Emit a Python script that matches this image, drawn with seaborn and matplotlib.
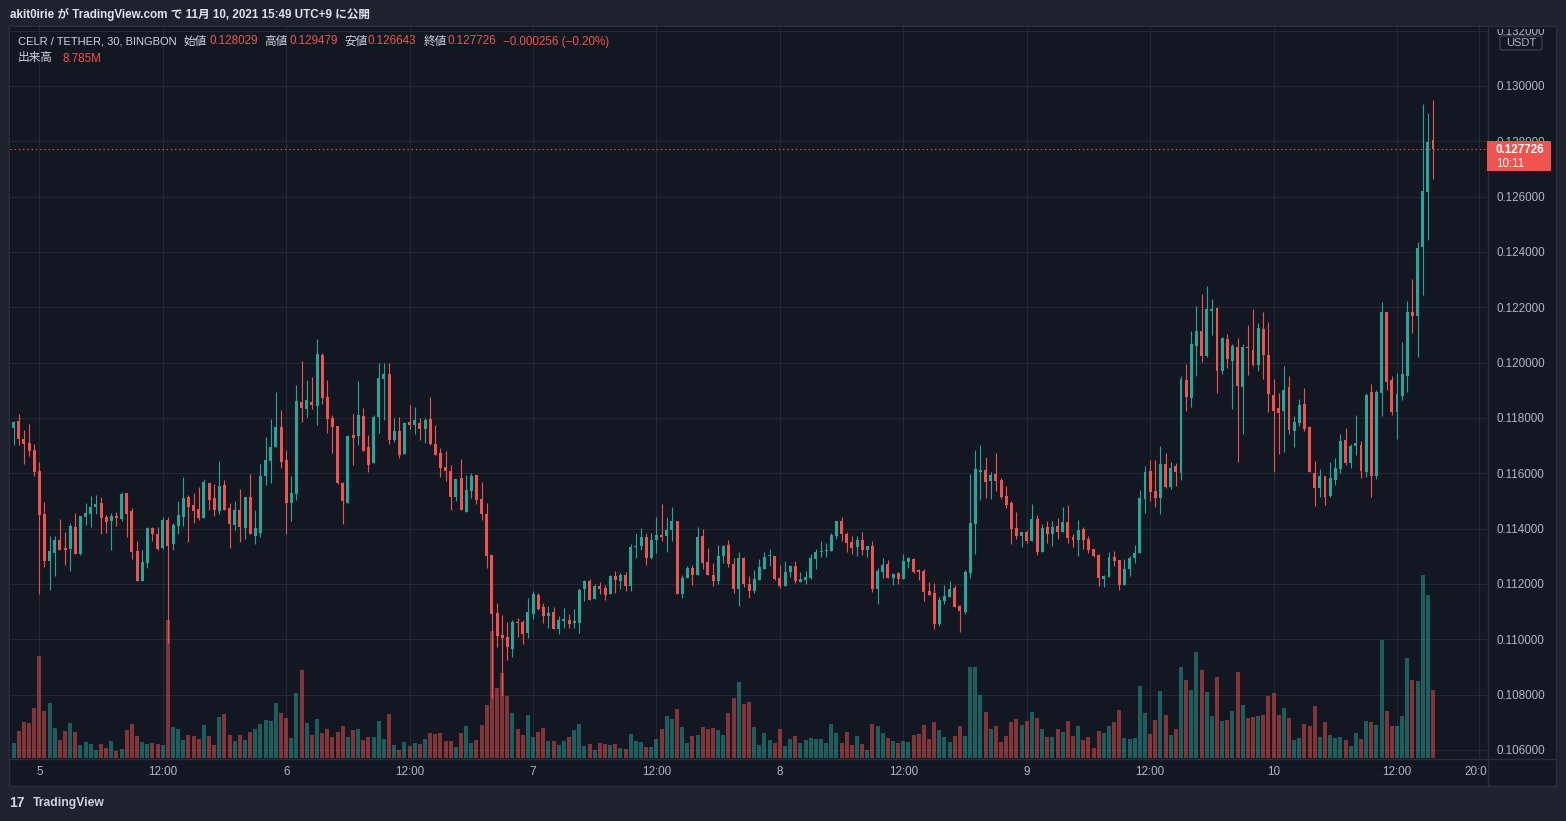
import matplotlib
matplotlib.use("Agg")
import matplotlib.pyplot as plt
import numpy as np
import pandas as pd
import seaborn as sns
from matplotlib.patches import Rectangle, FancyBboxPatch
from matplotlib.lines import Line2D
from matplotlib.transforms import Bbox, TransformedBbox, IdentityTransform

# ---------------- data (30-min candles, CELR/USDT, Nov 4 21:00 -> Nov 10 15:30) ----------------
opens = [
.11710,.11765,.11789,.11724,.11710,.11684,.11608,.11453,.11283,.11312,
.11359,.11330,.11326,.11406,.11307,.11442,.11453,.11478,.11493,.11442,
.11428,.11446,.11435,.11529,.11464,.11319,.11211,.11274,.11404,.11381,
.11330,.11432,.11343,.11410,.11442,.11514,.11486,.11471,.11439,.11565,
.11511,.11464,.11558,.11475,.11413,.11467,.11404,.11514,.11373,.11385,
.11590,.11645,.11695,.11768,.11648,.11493,.11525,.11858,.11833,.11858,
.11843,.12028,.11876,.11800,.11771,.11565,.11493,.11739,.11735,.11807,
.11695,.11637,.11804,.11941,.11959,.11721,.11753,.11670,.11786,.11775,
.11782,.11760,.11796,.11706,.11674,.11623,.11609,.11514,.11583,.11460,
.11536,.11594,.11507,.11453,.11305,.11095,.11016,.11008,.10965,.11063,
.11063,.11023,.11092,.11160,.11117,.11084,.11099,.11037,.11066,.11070,
.11059,.11059,.11182,.11211,.11146,.11193,.11185,.11164,.11229,.11211,
.11232,.11193,.11334,.11337,.11370,.11294,.11359,.11377,.11373,.11395,
.11428,.11164,.11222,.11258,.11232,.11373,.11279,.11232,.11211,.11301,
.11341,.11272,.11182,.11294,.11200,.11175,.11214,.11254,.11300,.11302,
.11222,.11193,.11243,.11265,.11207,.11214,.11222,.11290,.11316,.11320,
.11320,.11373,.11428,.11381,.11352,.11334,.11359,.11323,.11337,.11182,
.11243,.11272,.11222,.11240,.11218,.11279,.11290,.11247,.11247,.11175,
.11167,.11055,.11138,.11153,.11185,.11120,.11099,.11240,.11417,.11605,
.11612,.11572,.11598,.11576,.11518,.11493,.11402,.11374,.11388,.11355,
.11435,.11316,.11406,.11381,.11410,.11388,.11424,.11370,.11359,.11399,
.11363,.11327,.11305,.11218,.11225,.11298,.11287,.11196,.11254,.11294,
.11312,.11507,.11609,.11536,.11511,.11634,.11551,.11626,.11601,.11937,
.11872,.12060,.12114,.12024,.12187,.12198,.11970,.12086,.12006,.12057,
.11912,.12057,.12046,.11992,.12122,.12028,.11883,.11836,.11825,.11912,
.11753,.11782,.11851,.11768,.11601,.11547,.11590,.11518,.11576,.11616,
.11721,.11637,.11699,.11702,.11605,.11894,.11590,.11890,.12183,.11937,
.11822,.11880,.11952,.12183,.12169,.12418,.12617,.128029]

highs = [
.11771,.11789,.11814,.11757,.11778,.11706,.11641,.11496,.11373,.11373,
.11435,.11388,.11420,.11457,.11446,.11493,.11518,.11522,.11514,.11449,
.11457,.11460,.11532,.11529,.11475,.11357,.11323,.11406,.11406,.11406,
.11442,.11442,.11420,.11500,.11586,.11522,.11529,.11550,.11579,.11565,
.11561,.11644,.11576,.11493,.11500,.11543,.11514,.11597,.11467,.11634,
.11731,.11796,.11894,.11829,.11684,.11590,.11919,.12006,.11937,.11948,
.12086,.12035,.11937,.11811,.11771,.11568,.11739,.11815,.11934,.11836,
.11739,.11811,.11999,.11999,.11999,.11800,.11804,.11786,.11847,.11840,
.11800,.11800,.11876,.11775,.11692,.11681,.11630,.11580,.11652,.11594,
.11601,.11594,.11569,.11493,.11305,.11131,.11088,.11063,.11070,.11077,
.11070,.11149,.11175,.11167,.11131,.11120,.11117,.11084,.11113,.11092,
.11110,.11185,.11214,.11218,.11200,.11207,.11196,.11232,.11247,.11240,
.11243,.11345,.11384,.11402,.11384,.11384,.11442,.11489,.11442,.11478,
.11428,.11232,.11265,.11269,.11406,.11399,.11330,.11276,.11341,.11341,
.11359,.11294,.11316,.11298,.11229,.11251,.11290,.11316,.11326,.11302,
.11269,.11283,.11269,.11283,.11243,.11247,.11308,.11326,.11355,.11348,
.11384,.11428,.11442,.11388,.11373,.11373,.11388,.11337,.11355,.11258,
.11294,.11287,.11240,.11243,.11308,.11298,.11294,.11254,.11254,.11207,
.11204,.11153,.11196,.11211,.11196,.11124,.11251,.11598,.11684,.11702,
.11659,.11605,.11673,.11583,.11554,.11500,.11460,.11388,.11395,.11489,
.11449,.11417,.11428,.11428,.11439,.11478,.11486,.11381,.11431,.11406,
.11374,.11327,.11308,.11233,.11316,.11319,.11287,.11290,.11301,.11341,
.11540,.11626,.11648,.11648,.11699,.11673,.11641,.11637,.11952,.11995,
.12114,.12205,.12248,.12277,.12230,.12201,.12093,.12104,.12067,.12089,
.12067,.12136,.12194,.12143,.12183,.12147,.11941,.11890,.11988,.11952,
.11807,.11869,.11908,.11771,.11645,.11616,.11590,.11641,.11655,.11742,
.11764,.11706,.11811,.11717,.11890,.11923,.11901,.12219,.12183,.11952,
.11963,.12075,.12223,.12302,.12436,.12935,.12902,.129479]

lows = [
.11708,.11702,.11702,.11634,.11664,.11590,.11164,.11261,.11178,.11229,
.11323,.11268,.11247,.11308,.11305,.11413,.11406,.11453,.11381,.11386,
.11323,.11410,.11428,.11370,.11291,.11211,.11211,.11256,.11357,.11323,
.11326,.10985,.11323,.11381,.11410,.11350,.11420,.11432,.11439,.11467,
.11446,.11453,.11467,.11330,.11395,.11350,.11362,.11379,.11343,.11370,
.11558,.11565,.11695,.11619,.11380,.11428,.11504,.11786,.11804,.11833,
.11775,.11851,.11746,.11674,.11562,.11417,.11493,.11630,.11702,.11681,
.11605,.11637,.11746,.11793,.11706,.11713,.11655,.11670,.11760,.11742,
.11721,.11710,.11702,.11666,.11587,.11572,.11468,.11500,.11468,.11460,
.11511,.11489,.11431,.11258,.10788,.10972,.10795,.10925,.10936,.11008,
.10983,.11005,.11073,.11106,.11059,.11041,.11037,.11019,.11041,.11041,
.11041,.11023,.11138,.11142,.11146,.11164,.11142,.11164,.11167,.11182,
.11175,.11175,.11294,.11323,.11269,.11290,.11312,.11355,.11316,.11355,
.11164,.11149,.11222,.11196,.11232,.11254,.11232,.11193,.11200,.11276,
.11261,.11167,.11120,.11189,.11149,.11167,.11214,.11254,.11265,.11214,
.11185,.11193,.11225,.11204,.11207,.11200,.11218,.11254,.11298,.11298,
.11320,.11363,.11355,.11316,.11308,.11301,.11305,.11298,.11171,.11128,
.11222,.11222,.11196,.11200,.11218,.11258,.11240,.11214,.11138,.11160,
.11037,.11048,.11128,.11153,.11117,.11026,.11092,.11222,.11308,.11504,
.11511,.11507,.11536,.11507,.11475,.11345,.11363,.11334,.11348,.11355,
.11305,.11316,.11348,.11337,.11363,.11388,.11348,.11334,.11301,.11327,
.11312,.11298,.11193,.11189,.11225,.11265,.11178,.11196,.11229,.11276,
.11312,.11457,.11500,.11478,.11453,.11547,.11543,.11554,.11576,.11825,
.11840,.11952,.12002,.12020,.12100,.11890,.11959,.11981,.11833,.11641,
.11742,.11955,.11988,.11970,.11941,.11822,.11605,.11670,.11677,.11742,
.11695,.11771,.11753,.11605,.11482,.11515,.11486,.11515,.11558,.11601,
.11630,.11619,.11666,.11583,.11587,.11515,.11580,.11807,.11901,.11811,
.11724,.11865,.11894,.12107,.12021,.12245,.12443,.126643]

closes = [
.11760,.11785,.11724,.11706,.11681,.11605,.11449,.11283,.11319,.11359,
.11323,.11323,.11410,.11308,.11446,.11457,.11478,.11489,.11439,.11425,
.11446,.11439,.11525,.11453,.11316,.11211,.11280,.11401,.11379,.11326,
.11432,.11339,.11413,.11449,.11511,.11478,.11464,.11439,.11568,.11503,
.11467,.11554,.11467,.11417,.11467,.11406,.11514,.11379,.11401,.11590,
.11648,.11695,.11768,.11641,.11493,.11529,.11861,.11836,.11865,.11847,
.12031,.11872,.11796,.11768,.11565,.11500,.11735,.11728,.11811,.11681,
.11630,.11804,.11945,.11959,.11721,.11753,.11666,.11782,.11775,.11793,
.11760,.11793,.11706,.11666,.11619,.11609,.11514,.11580,.11468,.11540,
.11590,.11504,.11453,.11301,.11092,.11012,.11005,.10972,.11063,.11059,
.11019,.11099,.11164,.11110,.11084,.11095,.11037,.11070,.11073,.11055,
.11066,.11178,.11211,.11142,.11193,.11182,.11160,.11229,.11214,.11232,
.11193,.11334,.11337,.11370,.11294,.11359,.11377,.11370,.11395,.11428,
.11164,.11222,.11258,.11232,.11370,.11276,.11232,.11211,.11301,.11337,
.11272,.11182,.11294,.11200,.11175,.11218,.11261,.11298,.11302,.11218,
.11193,.11243,.11265,.11211,.11218,.11225,.11294,.11316,.11320,.11323,
.11377,.11428,.11381,.11348,.11330,.11359,.11323,.11337,.11182,.11247,
.11269,.11222,.11236,.11218,.11283,.11294,.11243,.11245,.11171,.11160,
.11055,.11142,.11157,.11182,.11117,.11102,.11243,.11421,.11616,.11612,
.11569,.11594,.11572,.11514,.11486,.11399,.11374,.11388,.11355,.11435,
.11316,.11402,.11381,.11406,.11388,.11424,.11366,.11359,.11395,.11359,
.11323,.11301,.11222,.11229,.11298,.11283,.11196,.11254,.11294,.11312,
.11511,.11605,.11533,.11511,.11634,.11551,.11619,.11605,.11941,.11876,
.12067,.12114,.12024,.12194,.12194,.11970,.12089,.12013,.12060,.11916,
.12057,.12053,.11992,.12125,.12028,.11887,.11825,.11818,.11901,.11757,
.11786,.11847,.11760,.11605,.11547,.11590,.11515,.11583,.11619,.11717,
.11637,.11699,.11710,.11608,.11883,.11590,.11894,.12183,.11930,.11822,
.11887,.11959,.12183,.12169,.12414,.12621,.12798,.127726]

volumes_m = [
2.49,1.97,3.52,4.68,4.55,6.48,13.17,6.09,7.12,3.90,
2.36,3.52,4.55,3.39,1.72,2.10,1.84,1.07,1.84,1.33,
2.23,0.94,1.20,3.65,4.42,2.87,2.10,1.84,1.97,1.84,
1.72,17.80,4.03,3.78,2.36,3.00,2.87,2.49,4.29,2.87,
1.72,5.32,5.71,3.00,2.23,3.00,2.36,3.39,3.78,4.42,
4.93,4.80,7.12,5.83,5.19,2.62,8.41,11.37,4.55,3.00,
5.06,3.26,3.78,2.75,3.39,4.16,2.75,3.65,3.78,2.36,
2.75,2.75,4.80,2.49,5.71,1.72,1.07,2.10,1.59,1.97,
1.84,2.49,3.26,3.13,3.26,2.23,2.23,1.46,3.26,4.16,
1.97,2.36,4.29,6.86,16.39,9.05,10.98,8.02,5.83,3.78,
3.00,5.58,2.75,3.39,3.90,2.23,2.23,1.72,2.23,2.75,
3.65,4.42,1.59,1.84,1.07,1.97,1.84,1.72,1.84,1.33,
1.20,3.13,2.23,2.10,1.46,1.46,2.49,3.78,5.45,5.06,
6.35,4.03,1.97,2.87,3.00,4.03,3.78,3.90,3.65,3.00,
5.83,7.76,9.82,6.99,7.25,4.03,1.72,3.26,2.36,1.97,
3.78,1.59,2.49,2.87,1.97,2.36,2.62,2.49,2.49,1.97,
4.42,3.26,1.97,3.39,1.72,2.87,1.84,1.07,4.42,4.16,
3.26,2.62,2.23,1.97,2.23,2.10,3.00,3.13,4.29,2.49,
4.68,3.65,2.75,2.10,2.87,4.16,2.87,11.75,11.75,8.15,
5.96,3.78,4.16,2.10,2.87,4.68,5.06,4.29,4.80,5.96,
5.19,3.78,2.75,2.75,3.78,3.39,4.80,2.87,4.16,2.36,
2.75,1.33,3.52,3.26,4.16,4.68,6.22,2.62,2.49,2.62,
9.31,5.83,3.13,4.93,8.67,5.58,3.00,3.78,11.75,10.08,
8.79,13.68,11.37,8.54,5.45,10.47,4.80,4.93,6.09,11.11,
6.86,5.19,5.32,5.45,5.58,8.02,8.41,5.58,6.48,5.19,
2.36,2.62,4.42,4.16,6.73,2.75,4.68,3.00,2.62,2.75,
2.36,1.59,3.26,2.49,4.80,4.68,4.29,15.23,6.09,4.16,
4.16,5.45,12.91,10.08,9.95,23.59,21.02,8.785]

price_ticks = [0.106, 0.108, 0.110, 0.112, 0.114, 0.116, 0.118, 0.120,
               0.122, 0.124, 0.126, 0.128, 0.130, 0.132]
time_tick_idx = [6, 30, 54, 78, 102, 126, 150, 174, 198, 222, 246, 270, 286]
time_tick_labels = ["5", "12:00", "6", "12:00", "7", "12:00", "8", "12:00",
                    "9", "12:00", "10", "12:00", "20:00"]

header = "akit0irie が TradingView.com で 11月 10, 2021 15:49 UTC+9 に公開"
legend_items = [("CELR / TETHER, 30, BINGBON", 18, "lbl"), ("始値", 184, "lbl"),
                ("0.128029", 209, "val"), ("高値", 264, "lbl"), ("0.129479", 289, "val"),
                ("安値", 344, "lbl"), ("0.126643", 368, "val"), ("終値", 424, "lbl"),
                ("0.127726", 448, "val"), ("\u22120.000256 (\u22120.20%)", 503, "val")]
volume_label = ("出来高", "8.785M")
countdown = "10:11"

# ---------------- style ----------------
sns.set_theme(style="dark")
plt.rcParams['font.family'] = ['Liberation Sans', 'Noto Sans CJK JP', 'DejaVu Sans']

W, H = 1566, 821
BG_OUT = '#1e222d'
BG = '#131722'
GRID = '#242833'
BORDER = '#2a2e39'
TXT = '#b2b5be'
TXT2 = '#d1d4dc'
UP = '#26a69a'
DOWN = '#ef5350'

fig = plt.figure(figsize=(W / 100, H / 100), dpi=100, facecolor=BG_OUT)
renderer = fig.canvas.get_renderer()


def frect(l, t, r, b):
    return [l / W, 1 - b / H, (r - l) / W, (b - t) / H]


def fx(x):
    return x / W


def fy(y):
    return 1 - y / H


def fit_width(txt_artist, target_px):
    w = txt_artist.get_window_extent(renderer=renderer).width
    if w > 0:
        txt_artist.set_fontsize(txt_artist.get_fontsize() * target_px / w)


fig.add_artist(Rectangle((fx(9), fy(786)), (1556 - 9) / W, (786 - 26) / H,
                         transform=fig.transFigure, facecolor=BG, edgecolor=BORDER,
                         lw=1, zorder=-1))

rect = frect(10, 27, 1487, 758)
ax = fig.add_axes(rect)
axv = fig.add_axes(rect)
axc = fig.add_axes(rect, sharex=ax, sharey=ax)

n = len(closes)
idx = np.arange(n)
o = np.array(opens); c = np.array(closes); h = np.array(highs); lo = np.array(lows)
up = c >= o
XLIM = (0.3, 287.5)
YLIM = (0.10571, 0.13213)

# base axis: background, grid, ticks
ax.set_facecolor(BG)
ax.set_xlim(*XLIM)
ax.set_ylim(*YLIM)
ax.yaxis.tick_right()
ax.set_yticks(price_ticks)
ax.set_yticklabels([f"{p:.6f}" for p in price_ticks])
ax.set_xticks(time_tick_idx)
ax.set_xticklabels(time_tick_labels)
ax.tick_params(axis='both', length=0, colors=TXT, labelsize=8.4)
ax.tick_params(axis='y', pad=6.5)
ax.tick_params(axis='x', pad=5.5)
ax.grid(True, color=GRID, lw=0.8)
for s in ax.spines.values():
    s.set_visible(False)

# volume (seaborn)
vdf = pd.DataFrame({"idx": idx, "vol": volumes_m, "dir": np.where(up, "up", "down")})
sns.barplot(data=vdf, x="idx", y="vol", hue="dir", palette={"up": UP, "down": DOWN},
            native_scale=True, dodge=False, width=0.78, errorbar=None, legend=False,
            saturation=1, alpha=0.5, linewidth=0, ax=axv)
axv.set_xlim(*XLIM)
axv.set_ylim(0, 94)
axv.axis('off')

# candles
cols = np.where(up, UP, DOWN)
axc.vlines(idx, lo, h, colors=cols, lw=0.8)
body_bottom = np.minimum(o, c)
body_h = np.maximum(np.abs(c - o), 0.00004)
axc.bar(idx, body_h, bottom=body_bottom, width=0.58, color=cols, linewidth=0)
axc.axhline(c[-1], color=DOWN, lw=0.8, ls=(0, (1.2, 2.6)))
axc.set_xlim(*XLIM)
axc.set_ylim(*YLIM)
axc.axis('off')

# separators
fig.add_artist(Line2D([fx(1487.5)] * 2, [fy(786), fy(26)], transform=fig.transFigure,
                      color=BORDER, lw=1, zorder=2))
fig.add_artist(Line2D([fx(9), fx(1556)], [fy(758.5)] * 2, transform=fig.transFigure,
                      color=BORDER, lw=1, zorder=2))

# clip partial tick labels like the reference
clip_y = TransformedBbox(Bbox.from_extents(0, 0, 1, fy(29)), fig.transFigure)
for t in ax.yaxis.get_major_ticks():
    t.label2.set_clip_box(clip_y)
    t.label2.set_clip_on(True)
clip_x = TransformedBbox(Bbox.from_extents(0, 0, fx(1487), 1), fig.transFigure)
for t in ax.xaxis.get_major_ticks():
    t.label1.set_clip_box(clip_x)
    t.label1.set_clip_on(True)

# last price label box
y_disp = ax.transData.transform((0, c[-1]))[1]
fig.add_artist(Rectangle((1487, y_disp - 22), 64, 30, transform=IdentityTransform(),
                         facecolor=DOWN, edgecolor='none', zorder=3))
fig.text(1496, y_disp - 1.5, f"{closes[-1]:.6f}", transform=IdentityTransform(), color='white',
         fontsize=8.4, fontweight='bold', va='center', ha='left', zorder=4)
fig.text(1496, y_disp - 15.5, countdown, transform=IdentityTransform(), color='white',
         fontsize=8.4, va='center', ha='left', zorder=4)

# USDT box
fig.add_artist(FancyBboxPatch((fx(1500), fy(50)), 42 / W, 14 / H,
                              boxstyle="round,pad=0,rounding_size=0.002",
                              transform=fig.transFigure, facecolor=BG,
                              edgecolor='#434651', lw=0.8, zorder=3))
fig.text(fx(1521), fy(43), "USDT", color=TXT, fontsize=8, ha='center', va='center', zorder=4)

# header & legend
t_head = fig.text(fx(10), fy(14), header, color='#e0e3eb', fontsize=9.2,
                  fontweight='bold', ha='left', va='center')
fit_width(t_head, 359)
for txt, x, kind in legend_items:
    t = fig.text(fx(x), fy(41.5), txt, color=(TXT2 if kind == "lbl" else DOWN),
                 fontsize=8.4, ha='left', va='center')
    if txt.startswith("CELR"):
        fit_width(t, 159)
fig.text(fx(18), fy(58.5), volume_label[0], color=TXT2, fontsize=8.4, ha='left', va='center')
fig.text(fx(62), fy(58.5), volume_label[1], color=DOWN, fontsize=8.4, ha='left', va='center')

# footer logo
fig.text(fx(9), fy(803), "17", color=TXT2, fontsize=10, fontweight='bold',
         ha='left', va='center')
t_foot = fig.text(fx(33), fy(803), "TradingView", color=TXT2, fontsize=9.2,
                  fontweight='bold', ha='left', va='center')
fit_width(t_foot, 71)

fig.savefig("out.png", dpi=100, facecolor=BG_OUT)
